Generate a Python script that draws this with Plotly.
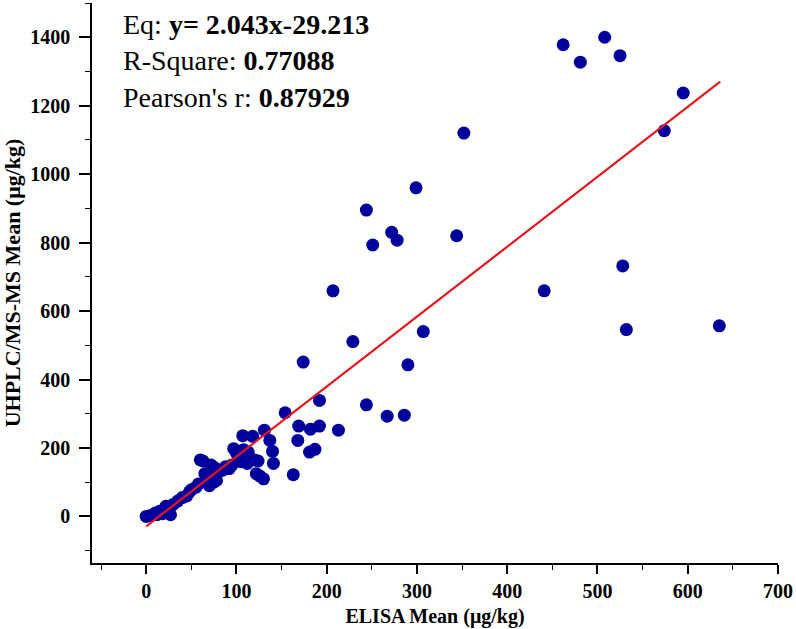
import plotly.graph_objects as go

elisa = [0, 5, 10, 12, 15, 18, 20, 22, 25, 27, 30, 35, 40, 45, 48, 50, 55, 58, 60, 63,
         65, 68, 70, 72, 75, 76, 78, 80, 85, 88, 92, 95, 97, 100, 105, 107, 108, 110, 112, 113,
         118, 120, 122, 124, 126, 130, 131, 137, 140, 141,
         154, 163, 168, 169, 174, 181, 182, 187, 192, 192, 207, 213, 229,
         244, 244, 251, 267, 272, 278, 286, 290, 299, 307,
         344, 352, 441, 462, 481, 508, 525, 528, 532, 574, 595, 635]
uhplc = [0, 3, 10, 5, 15, 8, 20, 30, 12, 5, 35, 45, 55, 60, 72, 78, 85, 95, 165, 162,
         125, 115, 90, 150, 100, 142, 105, 130, 135, 145, 140, 150, 198, 185, 160, 236, 195, 180, 155, 188,
         234, 165, 125, 162, 118, 110, 252, 222, 190, 155,
         303, 122, 222, 264, 451, 188, 255, 196, 339, 264, 659, 252, 511,
         895, 326, 793, 293, 830, 807, 296, 443, 960, 540,
         820, 1120, 659, 1378, 1327, 1400, 1346, 732, 546, 1127, 1237, 557]

slope = 2.043
intercept = -29.213
fit_x = [0, 636]
fit_y = [slope * v + intercept for v in fit_x]

x_title = "ELISA Mean (μg/kg)"
y_title = "UHPLC/MS-MS Mean (μg/kg)"
stats_text = ("Eq: <b>y= 2.043x-29.213</b><br>"
              "R-Square: <b>0.77088</b><br>"
              "Pearson's r: <b>0.87929</b>")

FONT = "Liberation Serif"

fig = go.Figure()
fig.add_trace(go.Scatter(
    x=elisa, y=uhplc, mode="markers",
    marker=dict(size=13, color="#00009C", line=dict(width=0)),
    showlegend=False))
fig.add_trace(go.Scatter(
    x=fit_x, y=fit_y, mode="lines",
    line=dict(color="#E8141C", width=2.2),
    showlegend=False))

axis_common = dict(
    showgrid=False, zeroline=False,
    showline=True, linecolor="black", linewidth=1.6,
    ticks="outside", tickwidth=1.6, tickcolor="black",
    tickfont=dict(family=FONT, size=20, color="black", weight="bold"),
    mirror=False,
)

fig.update_xaxes(
    range=[-60, 700], dtick=100, tick0=0, ticklen=9,
    minor=dict(dtick=50, tick0=0, ticks="outside", ticklen=5, tickwidth=1.4, tickcolor="black"),
    title=dict(text="<b>" + x_title + "</b>", font=dict(family=FONT, size=20, color="black"), standoff=8),
    **axis_common)
fig.update_yaxes(
    range=[-136, 1500], dtick=200, tick0=0, ticklen=11, ticklabelstandoff=5,
    minor=dict(dtick=100, tick0=0, ticks="outside", ticklen=5, tickwidth=1.4, tickcolor="black"),
    title=dict(text="<b>" + y_title + "</b>", font=dict(family=FONT, size=22, color="black"), standoff=8),
    **axis_common)

fig.add_annotation(
    xref="paper", yref="paper", x=0.042, y=0.993, xanchor="left", yanchor="top",
    text=stats_text, showarrow=False, align="left",
    font=dict(family=FONT, size=28, color="black"))

fig.update_layout(
    width=796, height=629,
    margin=dict(l=92, r=18, t=3, b=66),
    paper_bgcolor="white", plot_bgcolor="white",
)

fig.write_html("out.html")
